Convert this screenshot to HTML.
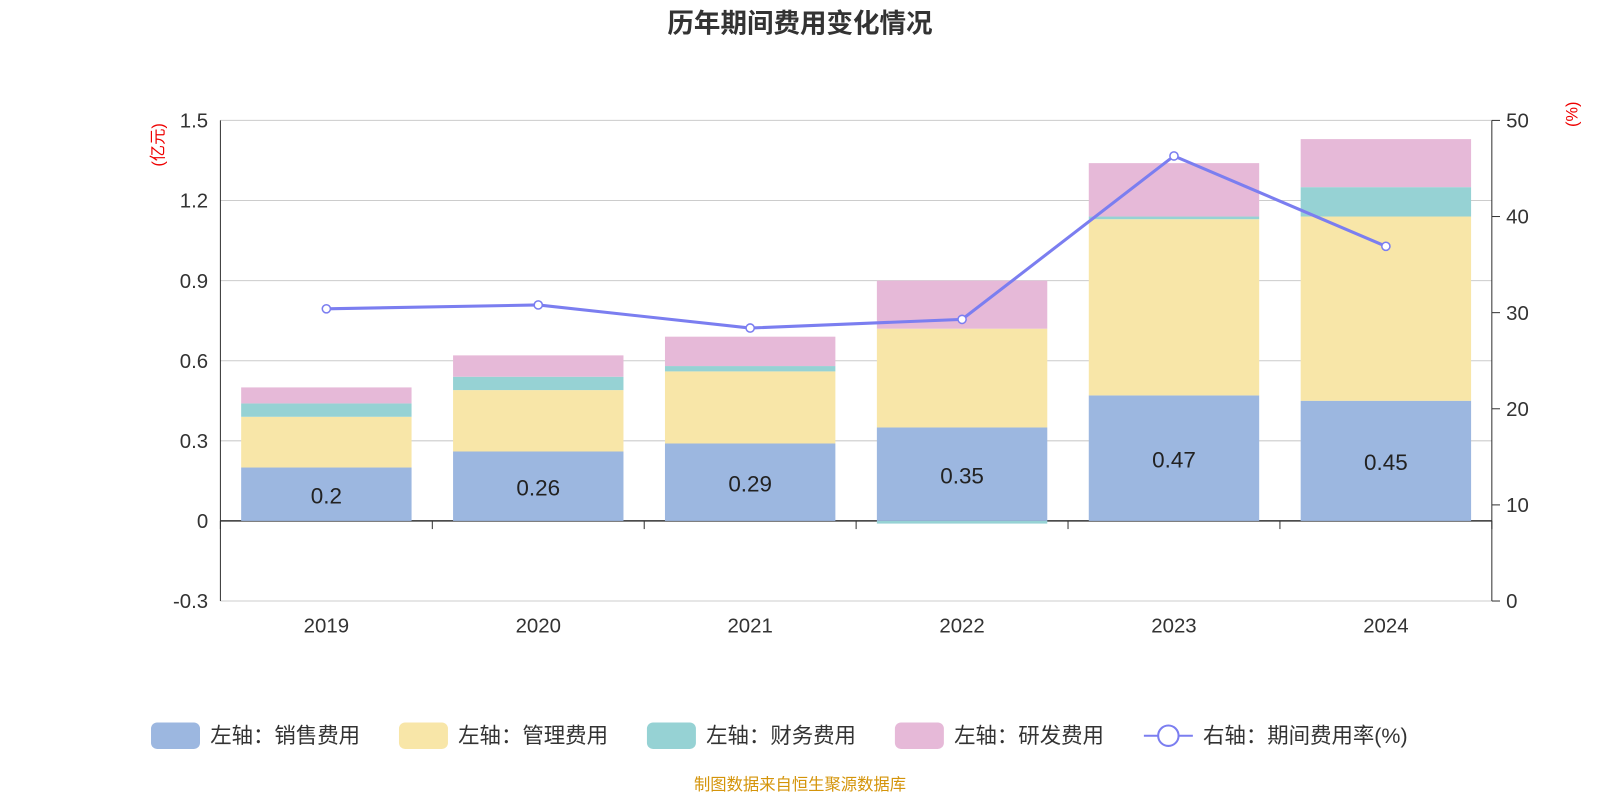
<!DOCTYPE html>
<html><head><meta charset="utf-8">
<style>
body{margin:0;background:#fff;font-family:"Liberation Sans","Noto Sans CJK SC",sans-serif;}
svg{display:block;}
svg text{font-family:"Liberation Sans","Noto Sans CJK SC",sans-serif;}
</style></head>
<body>
<svg id="c" width="1600" height="800" viewBox="0 0 1568 784" xmlns="http://www.w3.org/2000/svg">
<text x="784" y="32" text-anchor="middle" font-size="26" font-weight="bold" fill="#333">历年期间费用变化情况</text>
<text transform="translate(160,142) rotate(-90)" text-anchor="middle" font-size="16" fill="#e00">(亿元)</text>
<text transform="translate(1546,112) rotate(-90)" text-anchor="middle" font-size="16" fill="#e00">(%)</text>
<g id="grid"></g><g id="bars"></g><g id="axes"></g><g id="line"></g>
<g id="legend"></g>
<text x="784" y="774" text-anchor="middle" font-size="16" fill="#d4940a">制图数据来自恒生聚源数据库</text>
</svg>
<script>
const categories=["2019","2020","2021","2022","2023","2024"];
const sales=[0.2,0.26,0.29,0.35,0.47,0.45];
const mgmt=[0.19,0.23,0.27,0.37,0.66,0.69];
const fin=[0.05,0.05,0.02,-0.01,0.01,0.11];
const rd=[0.06,0.08,0.11,0.18,0.2,0.18];
const rate=[30.4,30.8,28.4,29.3,46.3,36.9];
const leftTicks=[-0.3,0,0.3,0.6,0.9,1.2,1.5];
const rightTicks=[0,10,20,30,40,50];
const NS="http://www.w3.org/2000/svg";
const X0=216,X1=1462,YT=118,YB=589;
const yL=v=>YB-(v+0.3)/1.8*(YB-YT);
const yR=v=>YB-v/50*(YB-YT);
const band=(X1-X0)/categories.length;
const xC=i=>X0+band*(i+0.5);
function mk(t,a,p){const e=document.createElementNS(NS,t);for(const k in a)e.setAttribute(k,a[k]);document.getElementById(p).appendChild(e);return e;}
leftTicks.forEach((t,i)=>{
 const g=mk('line',{x1:X0,x2:X1,y1:yL(t),y2:yL(t),stroke:t===0?'#333':'#ccc','stroke-width':t===0?1.5:1},'grid');
 
 const l=mk('text',{x:X0-12,y:yL(t)+7,'text-anchor':'end','font-size':20,fill:'#333'},'axes');
 l.textContent=(t===0?'0':String(t));
 
});
rightTicks.forEach(t=>{
 mk('line',{x1:X1,x2:X1+8,y1:yR(t),y2:yR(t),stroke:'#333'},'axes');
 const l=mk('text',{x:X1+14,y:yR(t)+7,'font-size':20,fill:'#333'},'axes');
 l.textContent=t;
 
});
mk('line',{x1:X0,x2:X0,y1:YT,y2:YB,stroke:'#333'},'axes');
mk('line',{x1:X1,x2:X1,y1:YT,y2:YB,stroke:'#333'},'axes');
for(let i=0;i<=categories.length;i++)mk('line',{x1:X0+band*i,x2:X0+band*i,y1:yL(0),y2:yL(0)+8,stroke:'#333'},'axes');
const cols=['#9cb7e0','#f8e6a8','#96d2d4','#e6b9d8'];
const series=[sales,mgmt,fin,rd];
const names=['sales','mgmt','fin','rd'];
categories.forEach((c,i)=>{
 const bw=167;let pos=0,neg=0;
 series.forEach((s,k)=>{
  const v=s[i];let a,b;
  if(v>=0){a=pos;b=pos+v;pos=b;}else{a=neg;b=neg+v;neg=b;}
  const r=mk('rect',{x:xC(i)-bw/2,y:Math.min(yL(a),yL(b)),width:bw,height:Math.abs(yL(a)-yL(b)),fill:cols[k]},'bars');
  
 });
 const t=mk('text',{x:xC(i),y:(yL(0)+yL(sales[i]))/2+9,'text-anchor':'middle','font-size':22,fill:'#222'},'bars');
 t.textContent=sales[i];
 
 const x=mk('text',{x:xC(i),y:620,'text-anchor':'middle','font-size':20,fill:'#333'},'axes');
 x.textContent=c;
 
});
const pl=mk('polyline',{points:rate.map((v,i)=>xC(i)+','+yR(v)).join(' '),fill:'none',stroke:'#7b7ef0','stroke-width':3},'line');

rate.forEach((v,i)=>{const p=mk('circle',{cx:xC(i),cy:yR(v),r:4,fill:'#fff',stroke:'#7b7ef0','stroke-width':1.5},'line');
 });
const leg=[['左轴：销售费用',148],['左轴：管理费用',391],['左轴：财务费用',634],['左轴：研发费用',877]];
leg.forEach((l,k)=>{
 const r=mk('rect',{x:l[1],y:708,width:48,height:26,rx:6,fill:cols[k]},'legend');
 
 const t=mk('text',{x:l[1]+58,y:728,'font-size':21,fill:'#333'},'legend');t.textContent=l[0];
 
});
mk('line',{x1:1121,x2:1169,y1:721,y2:721,stroke:'#7b7ef0','stroke-width':2},'legend');
mk('circle',{cx:1145,cy:721,r:10,fill:'#fff',stroke:'#7b7ef0','stroke-width':2},'legend');
const lt=mk('text',{x:1179,y:728,'font-size':21,fill:'#333'},'legend');lt.textContent='右轴：期间费用率(%)';

</script>
</body></html>
